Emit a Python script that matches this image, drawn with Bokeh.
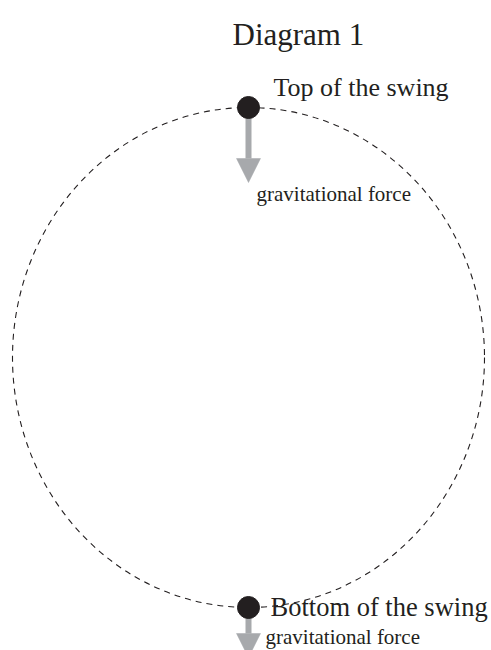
from bokeh.plotting import figure
from bokeh.models import Range1d, Arrow, NormalHead
from bokeh.core.properties import value
from bokeh.embed import file_html
from bokeh.resources import INLINE

# ---- data ----
title = "Diagram 1"
position_labels = ["Top of the swing", "Bottom of the swing"]
position_x = [0, 0]
position_y = [1, -1]          # top and bottom of the circular swing (unit circle)
force_label = "gravitational force"
force_length = [0.3, 0.2]     # arrow length, in circle radii
circle_diameter = 2

# ---- styles ----
INK = "#231f20"
GRAY = "#a7a9ac"
FONT = value("Liberation Serif")
HEAD = 24  # px

W, H = 491, 650
XPX, YPX = 236.0, 250.0
x0 = -1 - 12 / XPX
y1 = 1 + 107 / YPX
p = figure(width=W, height=H,
           x_range=Range1d(x0, x0 + W / XPX),
           y_range=Range1d(y1 - H / YPX, y1),
           output_backend="svg", toolbar_location=None, min_border=0)
p.axis.visible = False
p.grid.visible = False
p.outline_line_color = None
p.background_fill_color = "white"
p.border_fill_color = "white"

# dashed swing path
p.ellipse(x=[0], y=[0], width=[circle_diameter], height=[circle_diameter],
          fill_color=None, line_color=INK, line_width=1.1, line_dash="6 5")

# force arrows
for x, y, L in zip(position_x, position_y, force_length):
    y_end = y - L
    p.segment(x0=[x], y0=[y], x1=[x], y1=[y_end + HEAD / YPX],
              line_width=6, line_color=GRAY)
    p.add_layout(Arrow(end=NormalHead(size=HEAD, fill_color=GRAY, line_color=GRAY, line_width=0.5),
                       x_start=x, y_start=y, x_end=x, y_end=y_end, line_alpha=0))

# dots
p.scatter(x=position_x, y=position_y, size=22, color=INK)

# texts
p.text(x=[-16 / XPX], y=[(357 - 34) / YPX], text=[title], text_font=FONT,
       text_font_size="31px", text_color=INK, text_baseline="alphabetic")

p.text(x=[position_x[0]], y=[position_y[0]], text=[position_labels[0]], text_font=FONT,
       text_font_size="26px", text_color=INK, text_baseline="alphabetic",
       x_offset=25, y_offset=-20)
p.text(x=[position_x[1]], y=[position_y[1]], text=[position_labels[1]], text_font=FONT,
       text_font_size="26.5px", text_color=INK, text_baseline="alphabetic",
       x_offset=22, y_offset=-1)

p.text(x=[position_x[0]], y=[position_y[0]], text=[force_label], text_font=FONT,
       text_font_size="21px", text_color=INK, text_baseline="alphabetic",
       x_offset=8, y_offset=86)
p.text(x=[position_x[1]], y=[position_y[1]], text=[force_label], text_font=FONT,
       text_font_size="21px", text_color=INK, text_baseline="alphabetic",
       x_offset=17, y_offset=29)

open("out.html", "w").write(file_html(p, INLINE))
